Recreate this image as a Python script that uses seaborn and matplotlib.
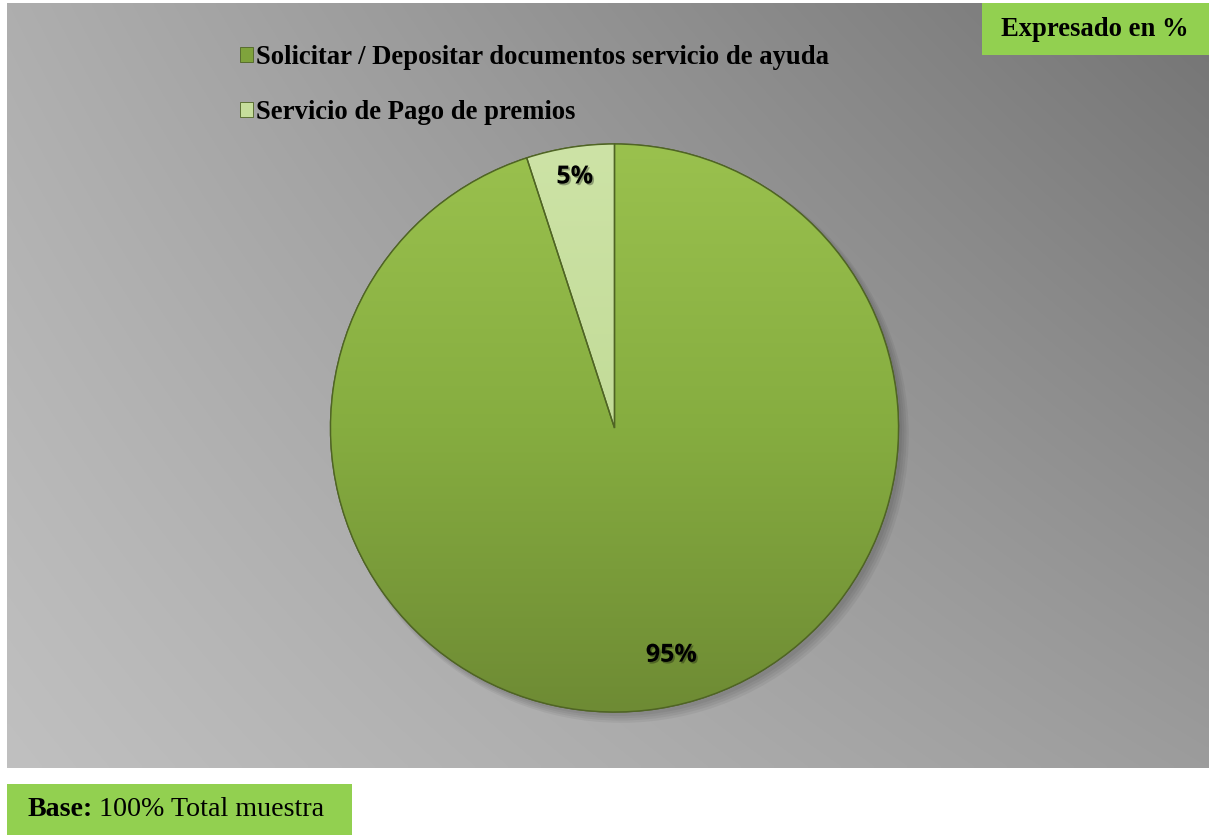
import numpy as np
import matplotlib
matplotlib.use("Agg")
import matplotlib.pyplot as plt
import seaborn as sns
import matplotlib.patheffects as pe
from matplotlib.patches import Rectangle, Patch, Circle
from matplotlib.colors import LinearSegmentedColormap

sns.set_theme(style="white")
plt.rcParams['font.family'] = ['DejaVu Sans']
plt.rcParams['text.color'] = 'black'

# ---- data ----
categories = ["Solicitar / Depositar documentos servicio de ayuda", "Servicio de Pago de premios"]
values = [95, 5]
value_labels = ["95%", "5%"]
note_top = "Expresado en %"
note_base_bold = "Base:"
note_base_rest = " 100% Total muestra"

W, H = 1209, 835
fig = plt.figure(figsize=(W / 100, H / 100), dpi=100)
fig.patch.set_facecolor("white")

# ---- background gradient (chart area) ----
bg = fig.add_axes([7 / W, 1 - 768 / H, (W - 7) / W, (768 - 3) / H])
bg.set_axis_off()
xs = np.linspace(0, 1, 300)
ys = np.linspace(0, 1, 200)
X, Y = np.meshgrid(xs, ys)  # Y=0 at top
TL, TR, BL, BR = 174, 116, 192, 156
top = TL + (TR - TL) * X
bot = BL + (BR - BL) * X
V = (top + (bot - top) * Y) / 255.0
bg.imshow(np.dstack([V, V, V]), aspect="auto", extent=[0, 1, 1, 0], interpolation="bilinear")
bg.set_xlim(0, 1)
bg.set_ylim(1, 0)

# ---- pie ----
cx, cy, r = 614.5, 428, 284
ax = fig.add_axes([(cx - r) / W, 1 - (cy + r) / H, 2 * r / W, 2 * r / H])
ax.set_axis_off()
main_cols = ["#8DB544", "#C6DE9C"]
# soft shadow
for k, a in enumerate([0.05, 0.05, 0.05, 0.05]):
    ax.add_patch(Circle((0.012 + 0.004 * k, -0.014 - 0.004 * k), 1.0 + 0.004 * k,
                        facecolor="black", edgecolor="none", alpha=a, zorder=0))
wedges, _ = ax.pie(values, startangle=90, counterclock=False, colors=main_cols,
                   wedgeprops=dict(edgecolor="#4F6424", linewidth=1.0))
ax.set_aspect("equal")

# gradient fill for each wedge
grads = [LinearSegmentedColormap.from_list("g1", ["#6E8B34", "#86AD40", "#9AC14E"]),
         LinearSegmentedColormap.from_list("g2", ["#B8D48A", "#CDE3A6"])]
gy = np.linspace(0, 1, 256).reshape(-1, 1) * np.ones((1, 4))
for w, cm in zip(wedges, grads):
    im = ax.imshow(gy, cmap=cm, extent=[-1.0, 1.0, -1.0, 1.0], origin="lower",
                   aspect="auto", zorder=w.get_zorder() + 0.1, interpolation="bilinear")
    im.set_clip_path(w)
    edge = matplotlib.patches.Wedge(w.center, w.r, w.theta1, w.theta2, facecolor="none",
                                    edgecolor="#4F6424", linewidth=1.0, zorder=w.get_zorder() + 0.2)
    ax.add_patch(edge)
ax.set_xlim(-1.05, 1.05)
ax.set_ylim(-1.05, 1.05)
ax.set_position([(cx - r * 1.05) / W, 1 - (cy + r * 1.05) / H, 2 * r * 1.05 / W, 2 * r * 1.05 / H])

# value labels
label_dist = [0.82, 0.895]
label_font = dict(family=["Open Sans", "DejaVu Sans"], weight="bold", size=18, color="black")
for w, lab, d in zip(wedges, value_labels, label_dist):
    ang = np.deg2rad((w.theta1 + w.theta2) / 2)
    x, y = d * np.cos(ang), d * np.sin(ang)
    if lab == "95%":
        x, y = 0.2, -0.80
    ax.text(x, y, lab, ha="center", va="center", zorder=10,
            path_effects=[pe.withSimplePatchShadow(offset=(1.2, -1.2), shadow_rgbFace="black", alpha=0.3)],
            **label_font)

# ---- legend ----
handles = [Patch(facecolor=c, edgecolor="#4F6424", linewidth=0.6) for c in ["#7FA33C", "#C6DE9C"]]
leg = fig.legend(handles, categories, loc="upper left", bbox_to_anchor=(229 / W, 1 - 34 / H),
                 frameon=False, handlelength=0.5, handleheight=0.5, handletextpad=0.12,
                 labelspacing=1.15, borderaxespad=0,
                 prop=dict(family="Liberation Serif", weight="bold", size=19.15))

# ---- note boxes ----
fig.patches.append(Rectangle((982 / W, 1 - 55 / H), (W - 982) / W, 52 / H,
                             transform=fig.transFigure, facecolor="#92D050", edgecolor="none", zorder=5))
fig.text(1095 / W, 1 - 30 / H, note_top, ha="center", va="center", family="Liberation Serif",
         weight="bold", size=19.2, zorder=6)

fig.patches.append(Rectangle((7 / W, 0), (352 - 7) / W, (835 - 784) / H,
                             transform=fig.transFigure, facecolor="#92D050", edgecolor="none", zorder=5))
t1 = fig.text(27 / W, 1 - 810 / H, note_base_bold, ha="left", va="center", family="Liberation Serif",
              weight="bold", size=20.2, zorder=6)
fig.canvas.draw()
bb = t1.get_window_extent()
fig.text(bb.x1 / W, 1 - 810 / H, note_base_rest, ha="left", va="center", family="Liberation Serif",
         size=20.2, zorder=6)

fig.savefig("out.png", dpi=100)
